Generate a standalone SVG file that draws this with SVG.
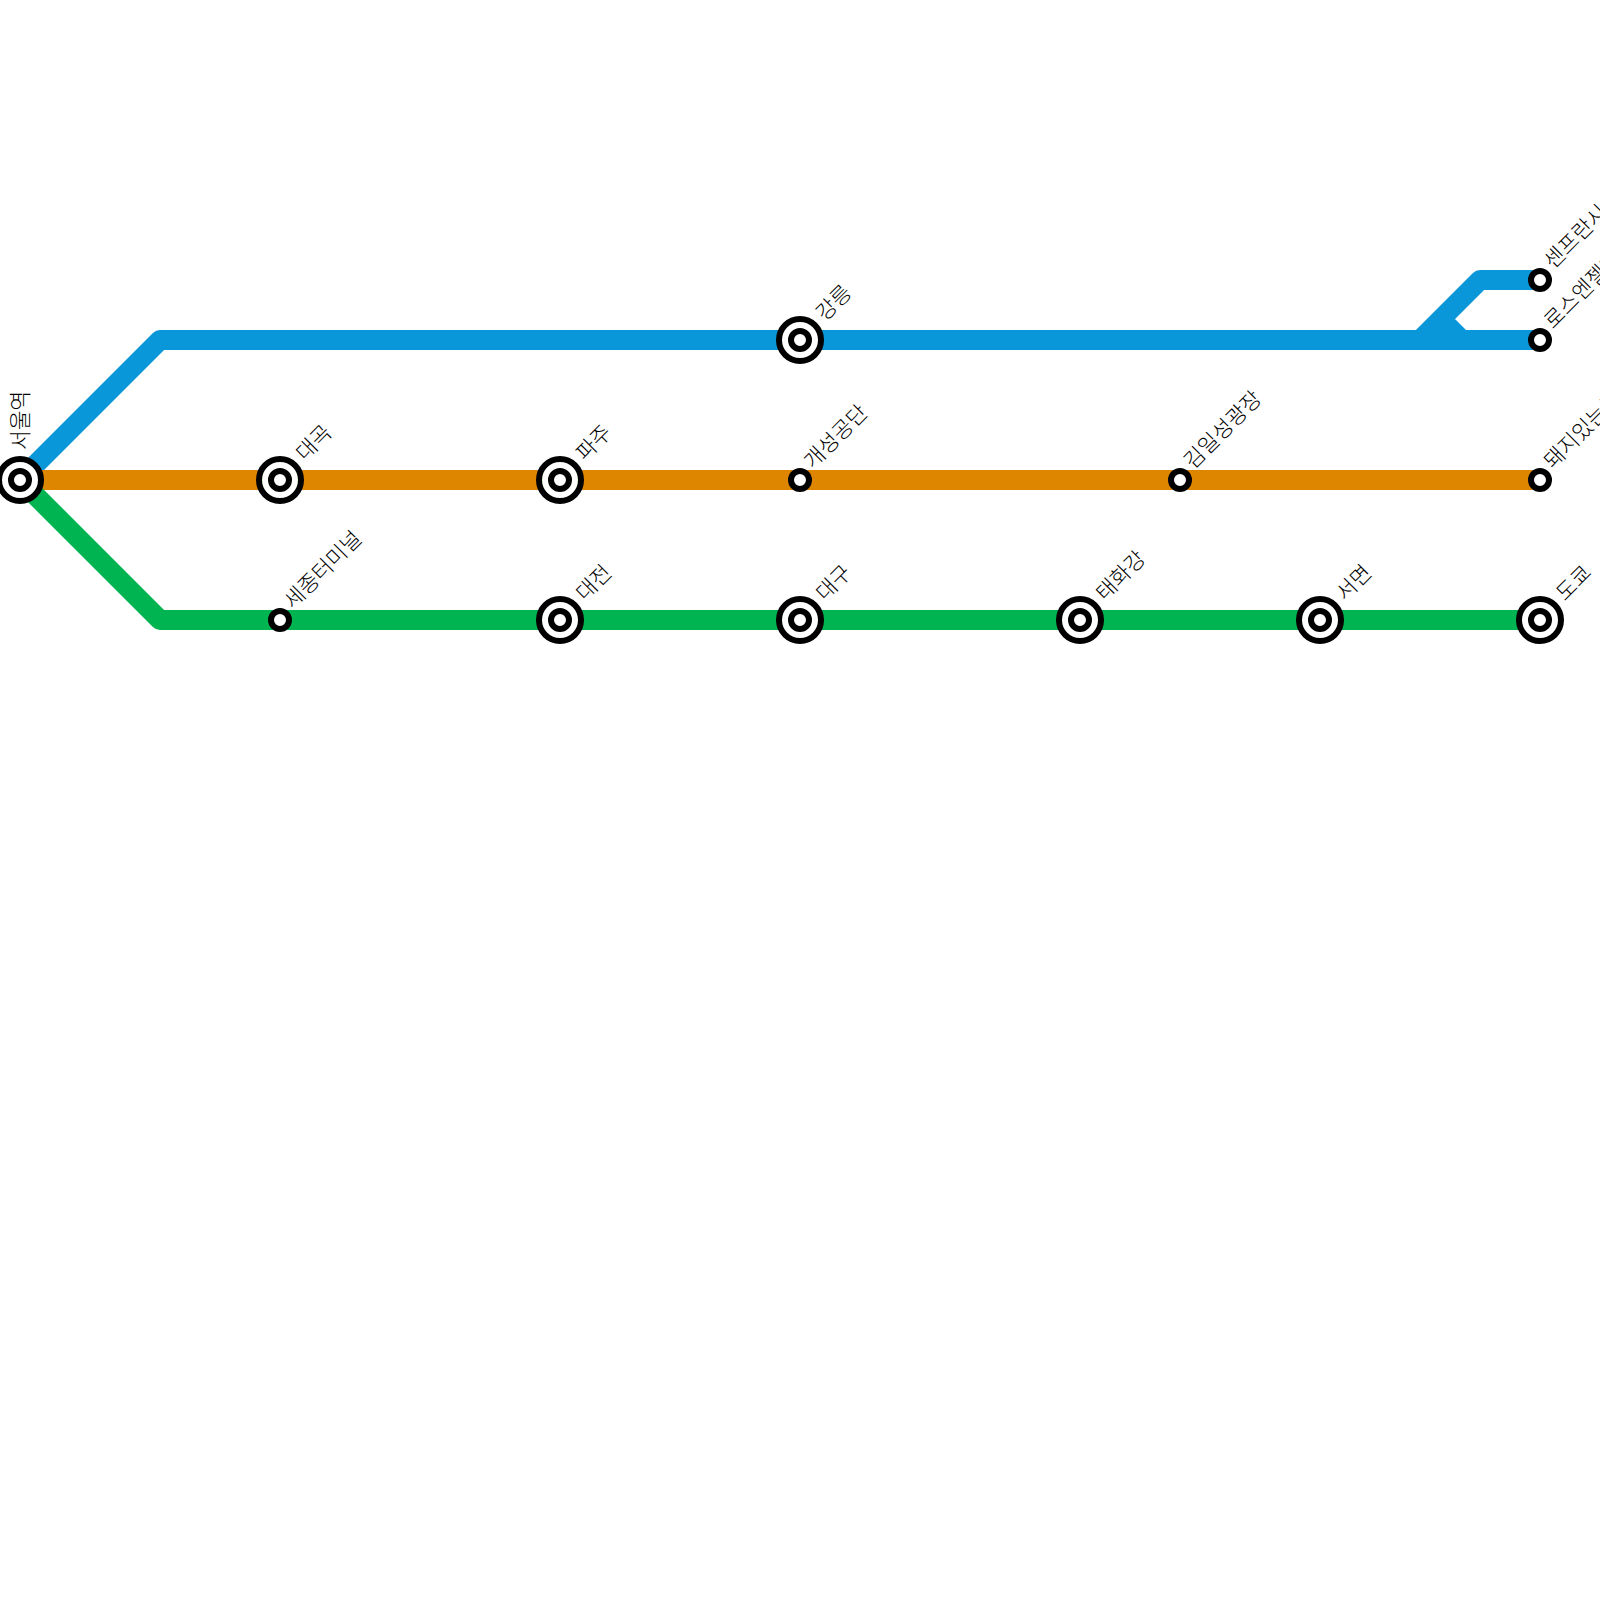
<svg xmlns="http://www.w3.org/2000/svg" width="1600" height="1600" viewBox="0 0 1600 1600">
<defs><style>
.l{fill:none;stroke-width:20;stroke-linejoin:round}
.b{stroke:#0a97d9}.o{stroke:#de8600}.g{stroke:#00b451}
.a{fill:#fff;stroke:#000;stroke-width:6}
.i{fill:#fff;stroke:#000;stroke-width:6}
text{font-family:"Noto Sans CJK KR",sans-serif;font-size:21.5px;font-weight:300;fill:#000}
</style></defs>
<rect width="1600" height="1600" fill="#fff"/>
<g id="connectors">
<path class="l b" d="M20 480L160 340H1540"/>
<path class="l b" d="M1540 280H1480L1420 340"/>
<polygon points="1420,340 1455,319 1466,330 1466,340" fill="#0a97d9"/>
<path class="l o" d="M20 480H1540"/>
<path class="l g" d="M20 480L160 620H1540"/>
</g>
<g id="s-seoul"><circle class="a" cx="20" cy="480" r="21"/><circle class="i" cx="20" cy="480" r="9"/><text transform="translate(28 450) rotate(-90)">서울역</text></g>
<g id="s-daegok"><circle class="a" cx="280" cy="480" r="21"/><circle class="i" cx="280" cy="480" r="9"/><text transform="translate(305 462) rotate(-45)">대곡</text></g>
<g id="s-paju"><circle class="a" cx="560" cy="480" r="21"/><circle class="i" cx="560" cy="480" r="9"/><text transform="translate(585 462) rotate(-45)">파주</text></g>
<g id="s-gaeseong"><circle class="i" cx="800" cy="480" r="9"/><text transform="translate(813 470) rotate(-45)">개성공단</text></g>
<g id="s-kimilsung"><circle class="i" cx="1180" cy="480" r="9"/><text transform="translate(1193 470) rotate(-45)">김일성광장</text></g>
<g id="s-pig"><circle class="i" cx="1540" cy="480" r="9"/><text transform="translate(1553 470) rotate(-45)">돼지있는곳</text></g>
<g id="s-gangneung"><circle class="a" cx="800" cy="340" r="21"/><circle class="i" cx="800" cy="340" r="9"/><text transform="translate(825 322) rotate(-45)">강릉</text></g>
<g id="s-sf"><circle class="i" cx="1540" cy="280" r="9"/><text transform="translate(1553 270) rotate(-45)">센프란시스코</text></g>
<g id="s-la"><circle class="i" cx="1540" cy="340" r="9"/><text transform="translate(1553 330) rotate(-45)">로스엔젤레스</text></g>
<g id="s-sejong"><circle class="i" cx="280" cy="620" r="9"/><text transform="translate(293 610) rotate(-45)">세종터미널</text></g>
<g id="s-daejeon"><circle class="a" cx="560" cy="620" r="21"/><circle class="i" cx="560" cy="620" r="9"/><text transform="translate(585 602) rotate(-45)">대전</text></g>
<g id="s-daegu"><circle class="a" cx="800" cy="620" r="21"/><circle class="i" cx="800" cy="620" r="9"/><text transform="translate(825 602) rotate(-45)">대구</text></g>
<g id="s-taehwa"><circle class="a" cx="1080" cy="620" r="21"/><circle class="i" cx="1080" cy="620" r="9"/><text transform="translate(1105 602) rotate(-45)">태화강</text></g>
<g id="s-seomyeon"><circle class="a" cx="1320" cy="620" r="21"/><circle class="i" cx="1320" cy="620" r="9"/><text transform="translate(1345 602) rotate(-45)">서면</text></g>
<g id="s-tokyo"><circle class="a" cx="1540" cy="620" r="21"/><circle class="i" cx="1540" cy="620" r="9"/><text transform="translate(1565 602) rotate(-45)">도쿄</text></g>
</svg>
